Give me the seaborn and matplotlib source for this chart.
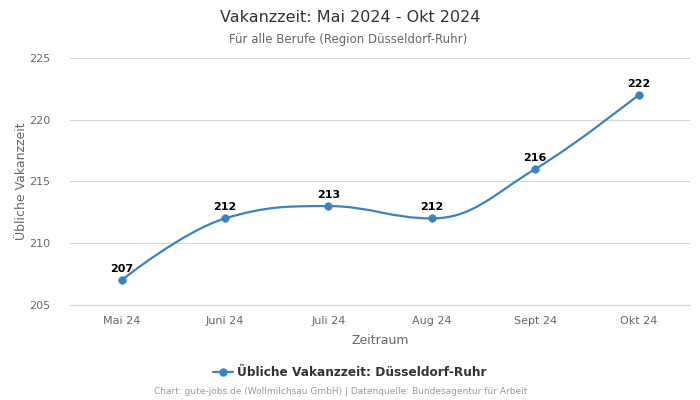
import matplotlib
matplotlib.use("Agg")
import matplotlib.pyplot as plt
from matplotlib.path import Path
from matplotlib.patches import PathPatch
from matplotlib.lines import Line2D
import seaborn as sns
import pandas as pd

months = ["Mai 24", "Juni 24", "Juli 24", "Aug 24", "Sept 24", "Okt 24"]
values = [207, 212, 213, 212, 216, 222]
yticks = [205, 210, 215, 220, 225]

color = "#3a83c1"

sns.set_theme(style="white")
plt.rcParams['font.family'] = ['DejaVu Sans']

fig = plt.figure(figsize=(7, 4), dpi=100)
ax = fig.add_axes([0.1, 0.238, 0.886, 0.617])

df = pd.DataFrame({"x": range(len(months)), "y": values})

# smooth spline path (Highcharts-style bezier control points)
def controls(xs, ys, i, smoothing=1.5):
    denom = smoothing + 1
    px, py = xs[i], ys[i]
    lx, ly = xs[i - 1], ys[i - 1]
    nx, ny = xs[i + 1], ys[i + 1]
    lcx = (smoothing * px + lx) / denom
    lcy = (smoothing * py + ly) / denom
    rcx = (smoothing * px + nx) / denom
    rcy = (smoothing * py + ny) / denom
    if rcx != lcx:
        corr = ((rcy - lcy) * (rcx - px)) / (rcx - lcx) + py - rcy
        lcy += corr
        rcy += corr
    if lcy > max(ly, py):
        lcy = max(ly, py); rcy = 2 * py - lcy
    elif lcy < min(ly, py):
        lcy = min(ly, py); rcy = 2 * py - lcy
    if rcy > max(py, ny):
        rcy = max(py, ny); lcy = 2 * py - rcy
    elif rcy < min(py, ny):
        rcy = min(py, ny); lcy = 2 * py - rcy
    return (lcx, lcy), (rcx, rcy)

xs = list(df["x"]); ys = list(df["y"])
n = len(xs)
left = [None] * n; right = [None] * n
left[0] = right[0] = (xs[0], ys[0])
left[-1] = right[-1] = (xs[-1], ys[-1])
for i in range(1, n - 1):
    left[i], right[i] = controls(xs, ys, i)
verts = [(xs[0], ys[0])]
codes = [Path.MOVETO]
for i in range(1, n):
    verts += [right[i - 1], left[i], (xs[i], ys[i])]
    codes += [Path.CURVE4] * 3
ax.add_patch(PathPatch(Path(verts, codes), facecolor="none", edgecolor=color, lw=1.6, zorder=2))

sns.scatterplot(data=df, x="x", y="y", ax=ax, color=color, s=30, edgecolor=color, zorder=3, legend=False)

for x, y in zip(xs, ys):
    ax.annotate(str(y), (x, y), xytext=(0, 4.5), textcoords="offset points",
                ha="center", va="bottom", fontsize=8, fontweight="bold", color="black")

ax.set_xlim(-0.5, n - 0.5)
ax.set_ylim(205, 225)
ax.set_yticks(yticks)
ax.set_xticks(range(n))
ax.set_xticklabels(months)
ax.tick_params(axis="both", colors="#666666", labelsize=8, length=0)
ax.tick_params(axis="y", pad=14)
ax.tick_params(axis="x", pad=8)
ax.grid(axis="y", color="#d6d6d6", lw=0.8)
ax.set_axisbelow(True)
for s in ["top", "right", "left"]:
    ax.spines[s].set_visible(False)
ax.spines["bottom"].set_color("#ccd6eb")
ax.spines["bottom"].set_linewidth(0.8)

ax.set_xlabel("Zeitraum", fontsize=9, color="#666666", labelpad=6)
ax.set_ylabel("Übliche Vakanzzeit", fontsize=9, color="#666666", labelpad=1)

fig.text(0.5, 0.957, "Vakanzzeit: Mai 2024 - Okt 2024", ha="center", va="center", fontsize=11.5, color="#333333")
fig.text(0.497, 0.902, "Für alle Berufe (Region Düsseldorf-Ruhr)", ha="center", va="center", fontsize=8.5, color="#666666")

handle = Line2D([], [], color=color, marker="o", markersize=5, lw=1.6)
leg = fig.legend([handle], ["Übliche Vakanzzeit: Düsseldorf-Ruhr"], loc="center", bbox_to_anchor=(0.5, 0.068),
                 frameon=False, fontsize=8.7, handlelength=1.6, handletextpad=0.4)
for t in leg.get_texts():
    t.set_fontweight("bold"); t.set_color("#333333")

fig.text(0.486, 0.02, "Chart: gute-jobs.de (Wollmilchsau GmbH) | Datenquelle: Bundesagentur für Arbeit",
         ha="center", va="center", fontsize=6.5, color="#999999")

fig.savefig("out.png", dpi=100)
